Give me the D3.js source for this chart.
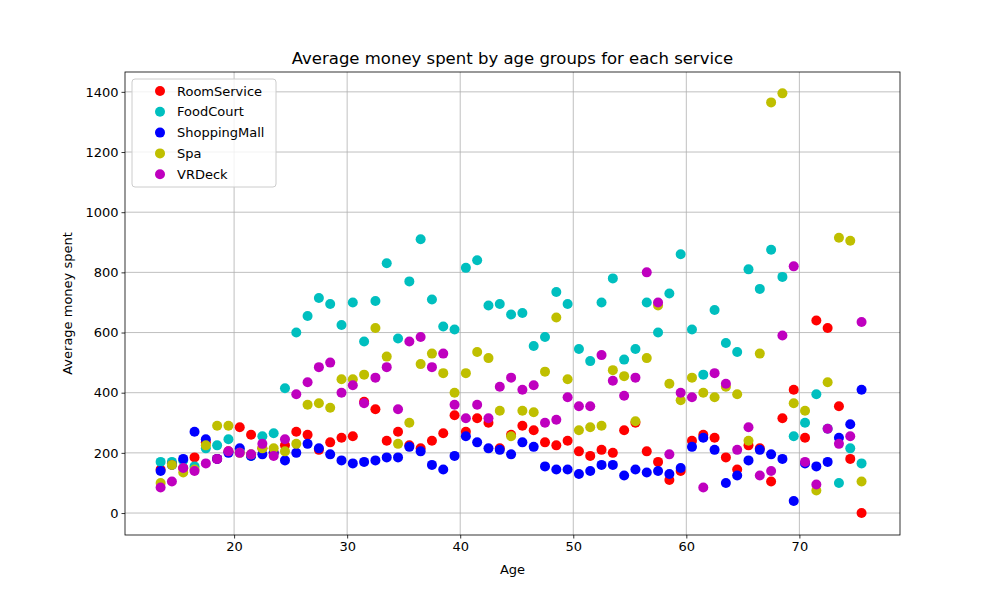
<!DOCTYPE html>
<html>
<head>
<meta charset="utf-8">
<script src="https://cdn.jsdelivr.net/npm/d3@7"></script>
<style>
  body { margin: 0; background: #fff; }
  text { font-family: "DejaVu Sans", sans-serif; }
</style>
</head>
<body>
<svg id="chart" width="1000" height="600"></svg>
<script>
// ages are bin centres, one per year
var ages = d3.range(63).map(function(i) { return 13.5 + i; });

var seriesNames = ["RoomService", "FoodCourt", "ShoppingMall", "Spa", "VRDeck"];
var seriesColors = ["#ff0000", "#00bfbf", "#0000ff", "#bfbf00", "#bf00bf"];

var roomService = [145,165,150,185,235,180,205,285,260,215,200,225,270,260,210,235,250,255,370,345,240,270,225,215,240,265,325,270,315,300,215,260,290,275,235,225,240,205,190,210,200,275,300,205,170,110,140,240,260,250,185,145,225,215,105,315,410,250,640,615,355,180,0];
var foodCourt = [170,170,175,155,215,225,245,210,190,255,265,415,600,655,715,695,625,700,570,705,830,580,770,910,710,620,610,815,840,690,695,660,665,555,585,735,695,545,505,700,780,510,545,700,600,730,860,610,460,675,565,535,810,745,875,785,255,300,395,280,100,215,165];
var shoppingMall = [140,160,180,270,245,180,200,215,190,195,200,175,200,230,215,195,175,165,170,175,185,185,220,205,160,145,190,255,235,215,210,195,235,220,155,145,145,130,140,160,160,125,145,135,140,130,150,220,250,210,100,125,175,210,195,180,40,165,155,170,250,295,410];
var spa = [100,160,135,145,225,290,290,200,195,215,215,205,230,360,365,350,445,445,460,615,520,230,300,495,530,465,400,465,535,515,340,255,340,335,470,650,445,275,285,290,475,455,305,515,690,430,375,450,400,385,420,395,240,530,1365,1395,365,340,75,435,915,905,105];
var vrDeck = [85,105,150,140,165,180,205,200,195,230,190,245,395,435,485,500,400,425,365,450,485,345,570,585,485,530,360,315,360,315,420,450,410,425,300,310,385,355,355,525,440,390,450,800,700,195,400,385,85,465,430,210,285,125,140,590,820,170,95,280,230,255,635];

var seriesValues = [roomService, foodCourt, shoppingMall, spa, vrDeck];

var xTicks = [20, 30, 40, 50, 60, 70];
var yTicks = [0, 200, 400, 600, 800, 1000, 1200, 1400];

var svg = d3.select("#chart");
var plotLeft = 125, plotRight = 900, plotTop = 72, plotBottom = 535;

var x = d3.scaleLinear().domain([10.35, 78.9]).range([plotLeft, plotRight]);
var y = d3.scaleLinear().domain([-73, 1466]).range([plotBottom, plotTop]);

// grid
svg.append("g").selectAll("line").data(xTicks).enter().append("line")
  .attr("x1", function(d) { return x(d); }).attr("x2", function(d) { return x(d); })
  .attr("y1", plotTop).attr("y2", plotBottom)
  .attr("stroke", "#b0b0b0").attr("stroke-width", 0.8);
svg.append("g").selectAll("line").data(yTicks).enter().append("line")
  .attr("y1", function(d) { return y(d); }).attr("y2", function(d) { return y(d); })
  .attr("x1", plotLeft).attr("x2", plotRight)
  .attr("stroke", "#b0b0b0").attr("stroke-width", 0.8);

// points, series drawn in order so later ones sit on top
seriesValues.forEach(function(vals, si) {
  svg.append("g").selectAll("circle").data(vals).enter().append("circle")
    .attr("cx", function(d, i) { return x(ages[i]); })
    .attr("cy", function(d) { return y(d); })
    .attr("r", 5)
    .attr("fill", seriesColors[si]);
});

// axes
var xAxis = svg.append("g").attr("transform", "translate(0," + plotBottom + ")")
  .call(d3.axisBottom(x).tickValues(xTicks).tickSize(3.5).tickPadding(3));
var yAxis = svg.append("g").attr("transform", "translate(" + plotLeft + ",0)")
  .call(d3.axisLeft(y).tickValues(yTicks).tickFormat(d3.format("d")).tickSize(3.5).tickPadding(3));
[xAxis, yAxis].forEach(function(a) {
  a.select(".domain").remove();
  a.selectAll("text").attr("font-size", 13).attr("fill", "#000")
    .attr("font-family", "DejaVu Sans, sans-serif");
  a.selectAll("line").attr("stroke", "#000").attr("stroke-width", 0.8);
});

svg.append("rect").attr("x", plotLeft).attr("y", plotTop)
  .attr("width", plotRight - plotLeft).attr("height", plotBottom - plotTop)
  .attr("fill", "none").attr("stroke", "#000").attr("stroke-width", 0.8);

// labels
svg.append("text").attr("x", (plotLeft + plotRight) / 2).attr("y", 64)
  .attr("text-anchor", "middle").attr("font-size", 16.5)
  .text("Average money spent by age groups for each service");
svg.append("text").attr("x", (plotLeft + plotRight) / 2).attr("y", 574)
  .attr("text-anchor", "middle").attr("font-size", 13).text("Age");
svg.append("text").attr("transform", "translate(72," + ((plotTop + plotBottom) / 2) + ") rotate(-90)")
  .attr("text-anchor", "middle").attr("font-size", 13).text("Average money spent");

// legend
var legend = svg.append("g");
legend.append("rect").attr("x", 132).attr("y", 79).attr("width", 144).attr("height", 108)
  .attr("rx", 3).attr("fill", "#fff").attr("fill-opacity", 0.8)
  .attr("stroke", "#cccccc").attr("stroke-width", 1);
seriesNames.forEach(function(name, i) {
  var ly = 91 + i * 20.8;
  legend.append("circle").attr("cx", 160).attr("cy", ly).attr("r", 5).attr("fill", seriesColors[i]);
  legend.append("text").attr("x", 177).attr("y", ly + 4.5).attr("font-size", 13).text(name);
});
</script>
</body>
</html>
